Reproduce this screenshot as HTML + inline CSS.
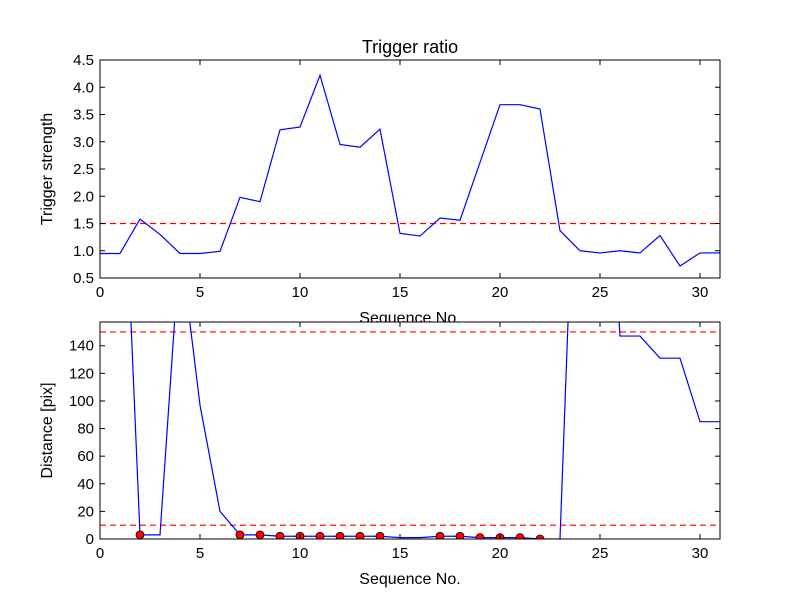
<!DOCTYPE html>
<html><head><meta charset="utf-8"><style>
body{margin:0;background:#fff;}
svg{font-family:"Liberation Sans","DejaVu Sans",sans-serif;}
</style></head><body>
<svg id="fig" width="800" height="600" viewBox="0 0 800 600" xmlns="http://www.w3.org/2000/svg">
<defs>
<clipPath id="c1"><rect x="100" y="60" width="620" height="218"/></clipPath>
<clipPath id="c2"><rect x="100" y="322" width="620" height="217"/></clipPath>
</defs>
<rect width="800" height="600" fill="#fff"/>
<g id="top"></g>
<g id="bot"></g>
</svg>
<script>
const seq = [0,1,2,3,4,5,6,7,8,9,10,11,12,13,14,15,16,17,18,19,20,21,22,23,24,25,26,27,28,29,30,31];
const triggerStrength = [0.95,0.95,1.58,1.3,0.95,0.95,0.99,1.98,1.9,3.22,3.27,4.22,2.95,2.9,3.23,1.32,1.27,1.6,1.56,2.62,3.68,3.68,3.6,1.37,1.0,0.96,1.0,0.96,1.28,0.72,0.96,0.96];
const triggerThreshold = 1.5;
const distance = [350,345,3,3,215,97,20,3,3,2,2,2,2,2,2,1,1,2,2,1,1,1,0,0,392,392,147,147,131,131,85,85];
const markerIdx = [2,7,8,9,10,11,12,13,14,17,18,19,20,21,22];
const distThresholds = [150,10];
const xTicks = [0,5,10,15,20,25,30];
const topYTicks = ["0.5","1.0","1.5","2.0","2.5","3.0","3.5","4.0","4.5"];
const botYTicks = [0,20,40,60,80,100,120,140];

const NS="http://www.w3.org/2000/svg";
function mk(parent,tag,attrs,text){const e=document.createElementNS(NS,tag);for(const k in attrs)e.setAttribute(k,attrs[k]);if(text!==undefined)e.textContent=text;parent.appendChild(e);return e;}

function axes(g,L,T,W,H,xmin,xmax,ymin,ymax,yticks,clipId,ylabel,title,bgWhite){
  const sx=v=>L+(v-xmin)/(xmax-xmin)*W;
  const sy=v=>T+H-(v-ymin)/(ymax-ymin)*H;
  if(bgWhite){const bg=mk(g,'rect',{x:L,y:T,width:W,height:H,fill:'#fff'});
    
    }
  return {sx,sy,finish(){
    const fr=mk(g,'rect',{x:L,y:T,width:W,height:H,fill:'none',stroke:'#000','stroke-width':1});
    
    
    xTicks.forEach(t=>{const x=sx(t);
      mk(g,'line',{x1:x,x2:x,y1:T+H,y2:T+H-5,stroke:'#000'});
      mk(g,'line',{x1:x,x2:x,y1:T,y2:T+5,stroke:'#000'});
      const tl=mk(g,'text',{x:x,y:T+H+19,'text-anchor':'middle','font-size':15},String(t));
      
      });
    yticks.forEach(t=>{const y=sy(parseFloat(t));
      mk(g,'line',{x1:L,x2:L+5,y1:y,y2:y,stroke:'#000'});
      mk(g,'line',{x1:L+W,x2:L+W-5,y1:y,y2:y,stroke:'#000'});
      const tl=mk(g,'text',{x:L-6,y:y+5,'text-anchor':'end','font-size':15},String(t));
      
      });
    const xl=mk(g,'text',{x:L+W/2,y:T+H+45,'text-anchor':'middle','font-size':16},'Sequence No.');
    
    
    const yl=mk(g,'text',{x:0,y:0,'text-anchor':'middle','font-size':16,transform:`translate(${L-48},${T+H/2}) rotate(-90)`},ylabel);
    
    
    if(title){const tt=mk(g,'text',{x:L+W/2,y:T-7,'text-anchor':'middle','font-size':18},title);
      
      }
  }};
}

// top chart
const gt=document.getElementById('top');
const A=axes(gt,100,60,620,218,0,31,0.5,4.5,topYTicks,'c1','Trigger strength','Trigger ratio',false);
const cg1=mk(gt,'g',{'clip-path':'url(#c1)'});
const th=mk(cg1,'line',{x1:100,x2:720,y1:A.sy(triggerThreshold),y2:A.sy(triggerThreshold),stroke:'#f00','stroke-width':1.2,'stroke-dasharray':'6,4'});


const l1=mk(cg1,'polyline',{points:seq.map((s,i)=>A.sx(s)+','+A.sy(triggerStrength[i])).join(' '),fill:'none',stroke:'#00f','stroke-width':1.2});


A.finish();

// bottom chart
const gb=document.getElementById('bot');
const B=axes(gb,100,322,620,217,0,31,0,157.2,botYTicks,'c2','Distance [pix]',null,true);
const cg2=mk(gb,'g',{'clip-path':'url(#c2)'});
distThresholds.forEach(v=>{const l=mk(cg2,'line',{x1:100,x2:720,y1:B.sy(v),y2:B.sy(v),stroke:'#f00','stroke-width':1.2,'stroke-dasharray':'6,4'});
  
  });
const l2=mk(cg2,'polyline',{points:seq.map((s,i)=>B.sx(s)+','+B.sy(distance[i])).join(' '),fill:'none',stroke:'#00f','stroke-width':1.2});


const cg3=mk(gb,'g',{'clip-path':'url(#c2)'});
markerIdx.forEach(i=>{const c=mk(cg3,'circle',{cx:B.sx(seq[i]),cy:B.sy(distance[i]),r:4,fill:'#f00',stroke:'#000','stroke-width':0.8});
  
  });
B.finish();
</script>
</body></html>
